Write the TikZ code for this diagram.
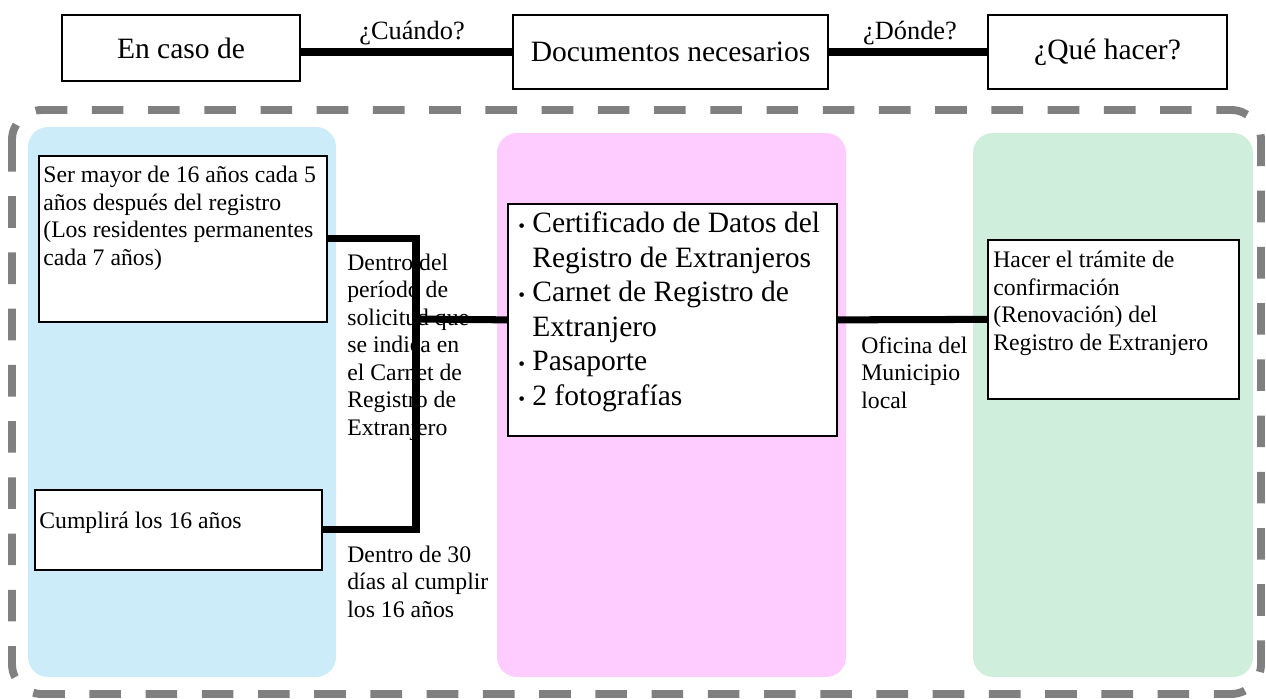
\documentclass[tikz,border=0pt]{standalone}
\usepackage{fontspec}
\setmainfont{Liberation Serif}

\definecolor{framegray}{HTML}{808080}
\definecolor{panelblue}{HTML}{CCECFA}
\definecolor{panelpink}{HTML}{FFCCFF}
\definecolor{panelgreen}{HTML}{CFEEDC}

\newcommand{\vineta}{\makebox[0.28cm][l]{\fontsize{11}{11}\selectfont\textbullet}}
\newcommand{\sangria}{\hspace*{0.28cm}}

\tikzset{
  panel/.style={rounded corners=0.4cm},
  wbox/.style={draw, fill=white, line width=1pt, inner sep=0pt},
  conn/.style={line width=4pt},
  big/.style={font=\fontsize{16.8}{19.6}\selectfont},
  small/.style={font=\fontsize{13.5}{15.6}\selectfont, inner sep=0pt, align=left, anchor=base west}
}

\begin{document}
\begin{tikzpicture}[x=0.02cm, y=-0.02cm]
  \useasboundingbox (0,0) rectangle (1266,698);
  % Top row
  \node[wbox, big, minimum width=4.76cm, minimum height=1.32cm] (encaso) at (181,48) {En caso de};
  \node[wbox, big, minimum width=6.3cm, minimum height=1.48cm] (docs) at (670.5,52) {Documentos necesarios};
  \node[wbox, big, minimum width=4.78cm, minimum height=1.48cm] (quehacer) at (1107.5,52) {¿Qué hacer?};
  \node[font=\fontsize{15}{18}\selectfont] (cuando) at (412,33) {¿Cuándo?};
  \node[font=\fontsize{15}{18}\selectfont] (donde) at (910,33) {¿Dónde?};
  \draw[conn] (encaso.east |- docs.west) -- (docs.west);
  \draw[conn] (docs.east) -- (quehacer.west);
  % Dashed frame and the three panels
  \draw[framegray, line width=4.5pt, dash pattern=on 18pt off 14pt, rounded corners=0.6cm] (12,110) rectangle (1261,694);
  \fill[panelblue, panel] (28,127) rectangle (336,677);
  \fill[panelpink, panel] (497,133) rectangle (846,677);
  \fill[panelgreen, panel] (973,133) rectangle (1253,677);
  % Boxes (text placed by the baseline of its last line)
  \node[wbox, anchor=north west, minimum width=5.76cm, minimum height=3.32cm] (sermayor) at (38,155) {};
  \node[wbox, anchor=north west, minimum width=5.74cm, minimum height=1.6cm] (cumplira) at (34,489) {};
  \node[wbox, anchor=north west, minimum width=6.58cm, minimum height=4.64cm] (docsbox) at (507,203) {};
  \node[wbox, anchor=north west, minimum width=5.02cm, minimum height=3.18cm] (hacer) at (987,239) {};
  \node[small] (sermayortxt) at (43,265) {Ser mayor de 16 años cada 5\\años después del registro\\(Los residentes permanentes\\cada 7 años)};
  \node[small] (cumpliratxt) at (39,528) {Cumplirá los 16 años};
  \node[big, inner sep=0pt, align=left, anchor=base west] (docstxt) at (518,405)
    {\vineta Certificado de Datos del\\\sangria Registro de Extranjeros\\\vineta Carnet de Registro de\\\sangria Extranjero\\\vineta Pasaporte\\\vineta 2 fotografías};
  \node[small] (hacertxt) at (993,350) {Hacer el trámite de\\confirmación\\(Renovación) del\\Registro de Extranjero};
  % Connector labels
  \node[small] (plazo) at (347,435) {Dentro del\\período de\\solicitud que\\se indica en\\el Carnet de\\Registro de\\Extranjero};
  \node[small] (treinta) at (347,617) {Dentro de 30\\días al cumplir\\los 16 años};
  \node[small] (oficina) at (861,408) {Oficina del\\Municipio\\local};
  % Connectors
  \coordinate (junta) at (416,319);
  \draw[conn] (sermayor.east) -| (junta) |- (cumplira.east);
  \draw[conn] (junta) -- (docsbox.west);
  \draw[conn] (docsbox.east) -- (hacer.west);
\end{tikzpicture}
\end{document}
